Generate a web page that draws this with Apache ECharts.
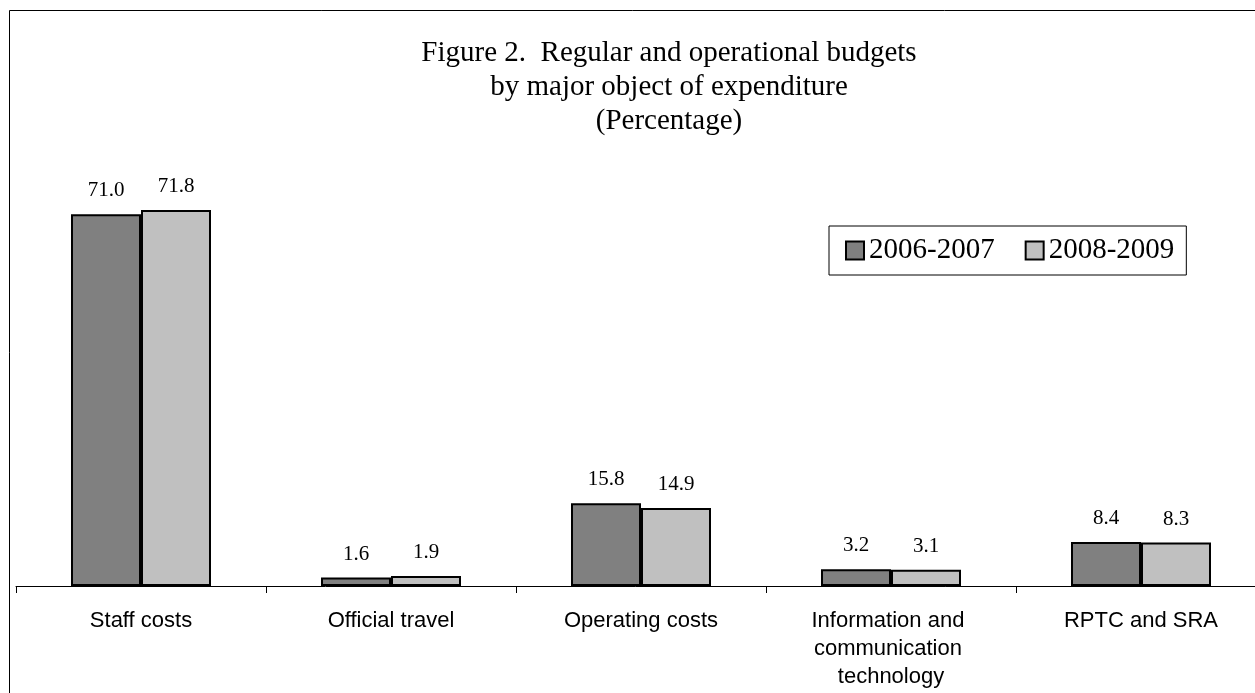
<!DOCTYPE html>
<html>
<head>
<meta charset="utf-8">
<script src="https://cdn.jsdelivr.net/npm/echarts@6/dist/echarts.min.js"></script>
<style>
html,body{margin:0;padding:0;background:#fff;}
#chart{width:1255px;height:693px;}
</style>
</head>
<body>
<div id="chart"></div>
<script>
const categories = ["Staff costs", "Official travel", "Operating costs", "Information and communication technology", "RPTC and SRA"];
const seriesNames = ["2006-2007", "2008-2009"];
const values2006 = [71.0, 1.6, 15.8, 3.2, 8.4];
const values2008 = [71.8, 1.9, 14.9, 3.1, 8.3];
const titleLines = ["Figure 2.  Regular and operational budgets", "by major object of expenditure", "(Percentage)"];

const chart = echarts.init(document.getElementById('chart'));
const serif = 'Liberation Serif, Times New Roman, serif';
const sans = 'Liberation Sans, Arial, sans-serif';

function barSeries(name, data, color) {
  return {
    name: name,
    type: 'bar',
    data: data,
    barWidth: 70,
    barGap: '0%',
    itemStyle: { color: color, borderColor: '#000', borderWidth: 2 },
    label: {
      show: true,
      position: 'top',
      distance: 13,
      fontFamily: serif,
      fontSize: 21,
      color: '#000',
      formatter: p => p.value.toFixed(1)
    },
    emphasis: { disabled: true }
  };
}

chart.setOption({
  animation: false,
  backgroundColor: '#fff',
  title: {
    text: titleLines.join('\n'),
    left: 664,
    top: 31,
    textAlign: 'center',
    textStyle: { fontFamily: serif, fontSize: 29, fontWeight: 'normal', color: '#000', lineHeight: 34 }
  },
  legend: {
    left: 829,
    top: 226,
    orient: 'horizontal',
    itemWidth: 18,
    itemHeight: 18,
    itemGap: 30,
    padding: [10, 12, 10, 16],
    borderColor: '#000',
    borderWidth: 1,
    textStyle: { fontFamily: serif, fontSize: 29, color: '#000' },
    data: seriesNames.map(n => ({ name: n, icon: 'rect' }))
  },
  graphic: [{
    type: 'rect',
    shape: { x: 9.5, y: 10.5, width: 1400, height: 900 },
    style: { fill: 'none', stroke: '#000', lineWidth: 1 },
    silent: true,
    z: -1
  }],
  grid: { left: 16, right: -11, top: 167, bottom: 107, containLabel: false, outerBoundsMode: 'none' },
  xAxis: {
    type: 'category',
    data: categories,
    boundaryGap: true,
    axisLine: { lineStyle: { color: '#000', width: 1 } },
    axisTick: { show: true, length: 7, lineStyle: { color: '#000' }, alignWithLabel: false },
    axisLabel: {
      interval: 0,
      margin: 21,
      fontFamily: sans,
      fontSize: 22,
      lineHeight: 28,
      color: '#000',
      width: 165,
      overflow: 'break'
    }
  },
  yAxis: {
    type: 'value',
    min: 0,
    max: 80,
    show: false,
    splitLine: { show: false }
  },
  series: [
    barSeries(seriesNames[0], values2006, '#808080'),
    barSeries(seriesNames[1], values2008, '#c0c0c0')
  ]
});
</script>
</body>
</html>
